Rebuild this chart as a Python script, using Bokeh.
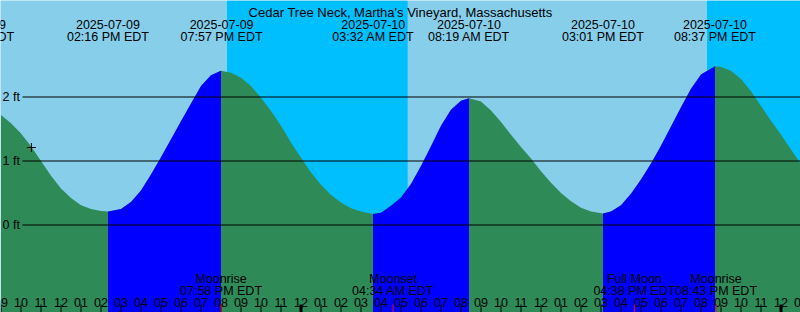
from datetime import datetime
from bokeh.plotting import figure
from bokeh.models import Range1d
from bokeh.core.properties import value
from bokeh.embed import file_html
from bokeh.resources import INLINE

# ---------------- data ----------------
title_text = "Cedar Tree Neck, Martha's Vineyard, Massachusetts"
tz_label = "EDT"
start_stamp = "2025-07-09 09:00 AM"
span_hours = 40

# tide level (ft) against hours since the start of the graph
curve_hours = [0.0, 0.5, 1.0, 1.5, 2.0, 2.5, 3.0, 3.5, 4.0, 4.5, 5.0, 5.35, 5.5,
               6.0, 6.5, 7.0, 7.5, 8.0, 8.5, 9.0, 9.5, 10.0, 10.5, 11.0, 11.5,
               12.0, 12.5, 13.0, 13.5, 14.0, 14.5, 15.0, 15.5, 16.0, 16.5, 17.0,
               17.5, 18.0, 18.6, 19.0, 19.5, 20.0, 20.5, 21.0, 21.5, 22.0, 22.5,
               23.0, 23.4, 24.0, 24.5, 25.0, 25.5, 26.0, 26.5, 27.0, 27.5, 28.0,
               28.5, 29.0, 29.5, 30.1, 30.5, 31.0, 31.5, 32.0, 32.5, 33.0, 33.5,
               34.0, 34.5, 35.0, 35.7, 36.0, 36.5, 37.0, 37.5, 38.0, 38.5, 39.0,
               39.5, 40.0]
curve_feet = [1.72, 1.59, 1.43, 1.23, 1.00, 0.77, 0.57, 0.42, 0.31, 0.25, 0.22, 0.21, 0.22,
              0.25, 0.36, 0.54, 0.79, 1.06, 1.34, 1.62, 1.90, 2.17, 2.34, 2.41, 2.38,
              2.30, 2.17, 1.99, 1.78, 1.55, 1.29, 1.05, 0.82, 0.63, 0.47, 0.35,
              0.26, 0.21, 0.17, 0.19, 0.30, 0.43, 0.64, 0.92, 1.23, 1.55, 1.80,
              1.94, 1.98, 1.93, 1.79, 1.61, 1.41, 1.22, 1.04, 0.84, 0.66, 0.50,
              0.37, 0.27, 0.21, 0.18, 0.21, 0.31, 0.49, 0.71, 0.96, 1.24, 1.54,
              1.84, 2.13, 2.35, 2.48, 2.47, 2.41, 2.28, 2.09, 1.86, 1.63, 1.41,
              1.18, 0.95]

tide_dates = ["2025-07-09", "2025-07-09", "2025-07-09", "2025-07-10",
              "2025-07-10", "2025-07-10", "2025-07-10"]
tide_times = ["07:34 AM", "02:16 PM", "07:57 PM", "03:32 AM",
              "08:19 AM", "03:01 PM", "08:37 PM"]

moon_events = ["Moonrise", "Moonset", "Full Moon", "Moonrise"]
moon_dates = ["2025-07-09", "2025-07-10", "2025-07-10", "2025-07-10"]
moon_times = ["07:58 PM", "04:34 AM", "04:38 PM", "08:43 PM"]

night_starts = ["2025-07-09 08:18 PM", "2025-07-10 08:18 PM"]
night_ends = ["2025-07-10 05:20 AM", "2025-07-11 01:00 AM"]

level_values = [0, 1, 2]
level_labels = ["0 ft", "1 ft", "2 ft"]

marker_hours = [1.52]
marker_feet = [1.21]

# ---------------- layout / style ----------------
W, H = 800, 312
PX_PER_HOUR = W / span_hours      # 20
PX_PER_FT = 64.0
FT_AT_TOP = 3.5
TIDE_SHIFT = 0.08                 # hours
MOON_SHIFT = 0.035

DAY = "#87CEEB"
NIGHT = "#00BFFF"
FALL = "#2E8B57"
RISE = "#0000FF"
FONT = value("Liberation Sans")
FS = "12.5px"

x_start = -0.5 / PX_PER_HOUR
x_end = x_start + span_hours
y_top = FT_AT_TOP + 0.5 / PX_PER_FT
y_bot = y_top - H / PX_PER_FT


def fx(px):
    return x_start + px / PX_PER_HOUR


def fy(px):
    return y_top - px / PX_PER_FT


t0 = datetime.strptime(start_stamp, "%Y-%m-%d %I:%M %p")


def hours_of(stamp):
    return (datetime.strptime(stamp, "%Y-%m-%d %I:%M %p") - t0).total_seconds() / 3600.0


p = figure(width=W, height=H, x_range=Range1d(x_start, x_end), y_range=Range1d(y_bot, y_top),
           output_backend="svg", toolbar_location=None, x_axis_type=None, y_axis_type=None,
           min_border=0, outline_line_color=None, background_fill_color=DAY,
           border_fill_color=DAY)
p.grid.visible = False

# night shading
p.quad(left=[hours_of(s) for s in night_starts], right=[hours_of(e) for e in night_ends],
       bottom=y_bot, top=y_top, fill_color=NIGHT, line_color=None)

# tide fill: falling colour under everything, rising colour on rising stretches
n = len(curve_hours)
p.varea(x=curve_hours, y1=[y_bot] * n, y2=curve_feet, fill_color=FALL)
groups = []
cur = None
for i in range(n - 1):
    if curve_feet[i + 1] > curve_feet[i]:
        if cur is None:
            cur = [i, i + 1]
        else:
            cur[1] = i + 1
    else:
        if cur is not None:
            groups.append(cur)
            cur = None
if cur is not None:
    groups.append(cur)
for a, b in groups:
    xs = curve_hours[a:b + 1]
    ys = curve_feet[a:b + 1]
    p.varea(x=xs, y1=[y_bot] * len(xs), y2=ys, fill_color=RISE)

# level lines and labels
p.segment(x0=[fx(22)] * len(level_values), y0=level_values, x1=[x_end] * len(level_values),
          y1=level_values, line_color="black", line_width=1)
p.text(x=[fx(2)] * len(level_values), y=level_values, text=level_labels, text_font=FONT,
       text_font_size=FS, text_align="left", text_baseline="middle", text_color="black")

# current level marker
p.scatter(x=marker_hours, y=marker_feet, marker="cross", size=9, line_color="black",
          line_width=1)

# hour ticks and labels
hours = list(range(span_hours + 1))
clock = [(9 + h) % 24 for h in hours]
hour_text = ["%02d" % ((c % 12) or 12) for c in clock]
normal = [h for h, c in zip(hours, clock) if c != 0]
midnight = [h for h, c in zip(hours, clock) if c == 0]
p.segment(x0=normal, y0=fy(304), x1=normal, y1=y_bot, line_color="black", line_width=1)
p.segment(x0=midnight, y0=fy(304), x1=midnight, y1=y_bot, line_color="black", line_width=3)
p.text(x=hours, y=fy(301.5), text=hour_text, text_font=FONT, text_font_size=FS,
       text_align="center", text_baseline="alphabetic", text_color="black")

# moon events
moon_x = [hours_of(d + " " + t) + MOON_SHIFT for d, t in zip(moon_dates, moon_times)]
p.segment(x0=moon_x, y0=fy(304), x1=moon_x, y1=y_bot, line_color="red", line_width=1)
p.text(x=moon_x, y=fy(278.5), text=moon_events, text_font=FONT, text_font_size=FS,
       text_align="center", text_baseline="alphabetic", text_color="black")
p.text(x=moon_x, y=fy(290), text=[t + " " + tz_label for t in moon_times], text_font=FONT,
       text_font_size=FS, text_align="center", text_baseline="alphabetic", text_color="black")

# tide events (top)
tide_x = [hours_of(d + " " + t) + TIDE_SHIFT for d, t in zip(tide_dates, tide_times)]
p.text(x=tide_x, y=fy(24), text=tide_dates, text_font=FONT, text_font_size=FS,
       text_align="center", text_baseline="alphabetic", text_color="black")
p.text(x=tide_x, y=fy(36), text=[t + " " + tz_label for t in tide_times], text_font=FONT,
       text_font_size=FS, text_align="center", text_baseline="alphabetic", text_color="black")

# title
p.text(x=[fx(W / 2)], y=[fy(12)], text=[title_text], text_font=FONT, text_font_size="13px",
       text_align="center", text_baseline="alphabetic", text_color="black")

open("out.html", "w").write(file_html(p, INLINE))
